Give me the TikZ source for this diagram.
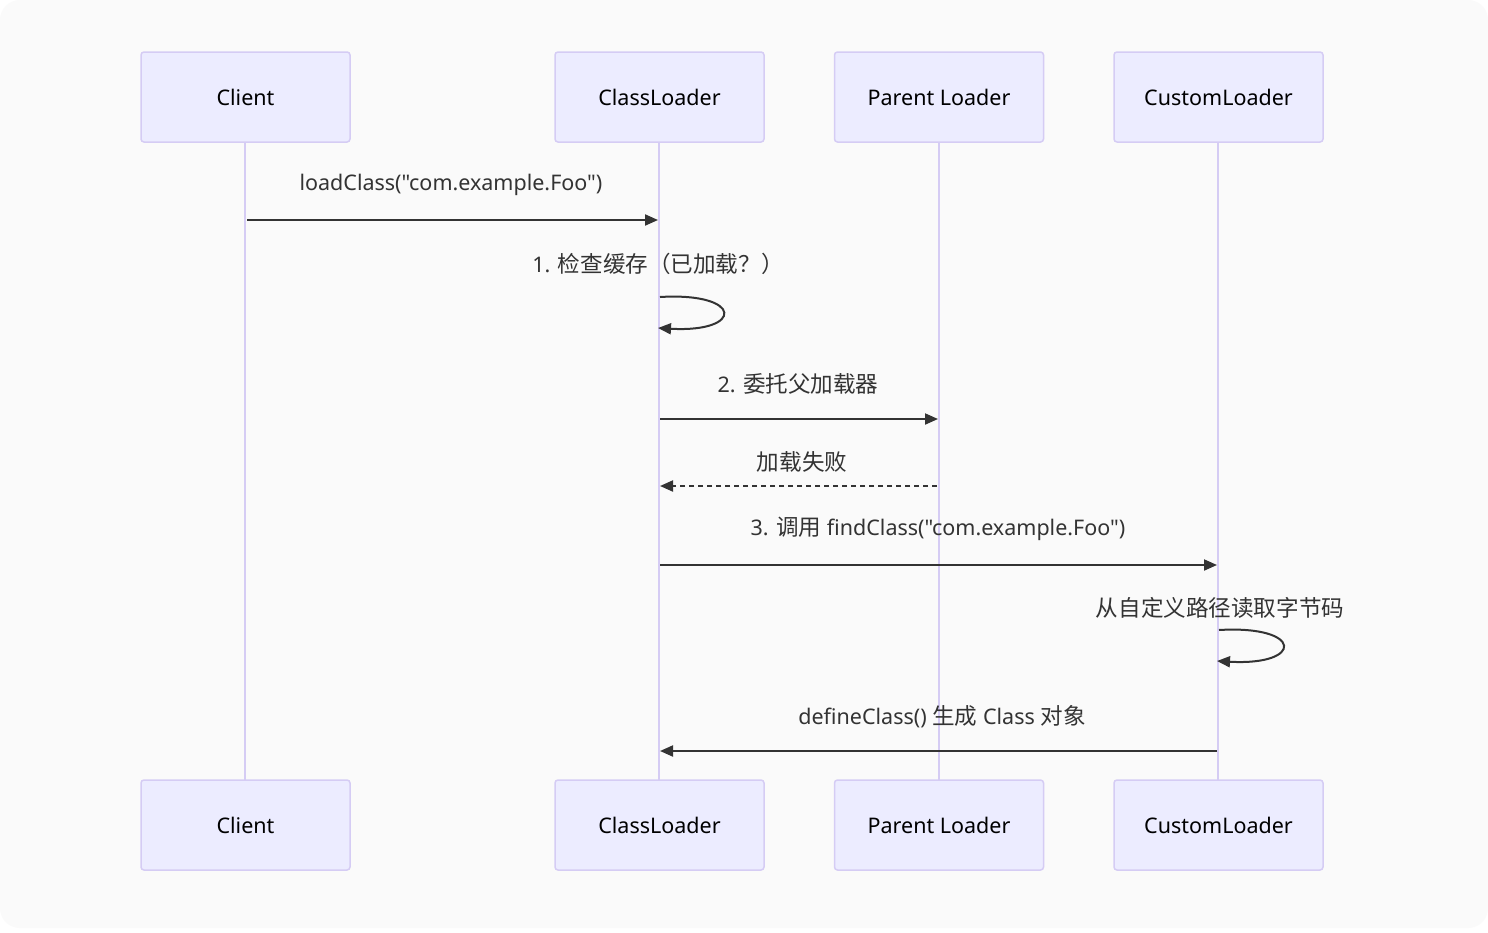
\documentclass[tikz,border=0pt]{standalone}
\usepackage{fontspec}
\setmainfont{Noto Sans}[Ligatures=TeXOff]
\newfontfamily\cjk{Noto Sans CJK SC}[Scale=1.05]
\usetikzlibrary{arrows.meta}
\definecolor{bgc}{HTML}{FAFAFA}
\definecolor{actfill}{HTML}{ECECFF}
\definecolor{actline}{HTML}{D5CCF4}
\definecolor{msg}{HTML}{333333}
\tikzset{
  actor/.style={draw=actline, line width=1.5pt, fill=actfill, rounded corners=3pt, minimum width=209pt, minimum height=90pt, font=\fontsize{21.5}{26}\selectfont, text=black, inner sep=0pt},
  life/.style={draw=actline, line width=2.5pt},
  msgline/.style={draw=msg, line width=2pt, -{Triangle[length=13pt,width=11pt]}},
  msgtext/.style={font=\fontsize{21.5}{26}\selectfont, text=msg, inner sep=0pt}
}
\begin{document}
\begin{tikzpicture}[x=1pt,y=-1pt]
\useasboundingbox (0,0) rectangle (1488,932);
\fill[white] (0,0) rectangle (1488,932);
\fill[bgc, rounded corners=20pt] (0,0) rectangle (1488,928);
% lifelines
\draw[life] (245,142) -- (245,780);
\draw[life] (659,142) -- (659,780);
\draw[life] (939,142) -- (939,780);
\draw[life] (1218,142) -- (1218,780);
% actors
\node[actor] (c1) at (245.5,97) {Client};
\node[actor] (l1) at (659.5,97) {ClassLoader};
\node[actor] (p1) at (939,97) {Parent Loader};
\node[actor] (u1) at (1218.5,97) {CustomLoader};
\node[actor] (c2) at (245.5,825) {Client};
\node[actor] (l2) at (659.5,825) {ClassLoader};
\node[actor] (p2) at (939,825) {Parent Loader};
\node[actor] (u2) at (1218.5,825) {CustomLoader};
% coordinates
\coordinate (m1a) at (247,220); \coordinate (m1b) at (658,220);
\coordinate (s1a) at (660,297); \coordinate (s1b) at (658,328);
\coordinate (m2a) at (660,419); \coordinate (m2b) at (938,419);
\coordinate (m3a) at (937,486); \coordinate (m3b) at (660,486);
\coordinate (m4a) at (660,565); \coordinate (m4b) at (1217,565);
\coordinate (s2a) at (1219,630); \coordinate (s2b) at (1217,661);
\coordinate (m5a) at (1217,751); \coordinate (m5b) at (660,751);
% messages
\node[msgtext] (t1) at (451,185) {loadClass("com.example.Foo")};
\draw[msgline] (m1a) -- (m1b);
\node[msgtext] (t2) at (658,263.5) {1. {\cjk 检查缓存（已加载？）}};
\draw[msgline] (s1a) .. controls (744,292) and (744,333) .. (s1b);
\node[msgtext] (t3) at (798,383.5) {2. {\cjk 委托父加载器}};
\draw[msgline] (m2a) -- (m2b);
\node[msgtext] (t4) at (802,461.5) {\cjk 加载失败};
\draw[msgline, dash pattern=on 5pt off 4pt] (m3a) -- (m3b);
\node[msgtext] (t5) at (938,529) {3. {\cjk 调用} findClass("com.example.Foo")};
\draw[msgline] (m4a) -- (m4b);
\node[msgtext] (t6) at (1220,607.5) {\cjk 从自定义路径读取字节码};
\draw[msgline] (s2a) .. controls (1304,625) and (1304,666) .. (s2b);
\node[msgtext] (t7) at (942,717) {defineClass() {\cjk 生成} Class {\cjk 对象}};
\draw[msgline] (m5a) -- (m5b);
\end{tikzpicture}
\end{document}
